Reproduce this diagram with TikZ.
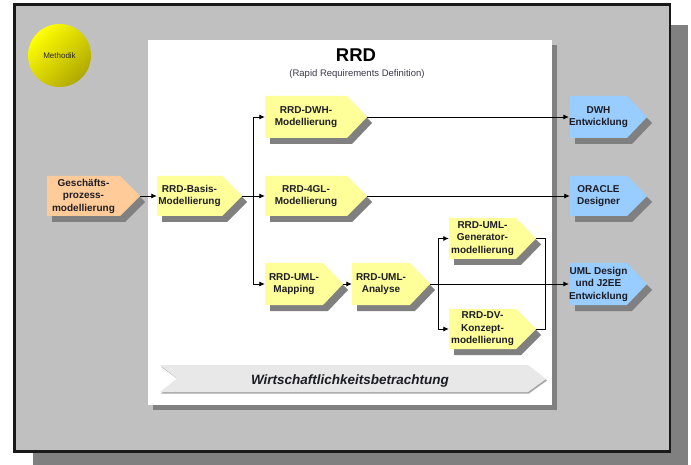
\documentclass[tikz,border=0pt]{standalone}
\usepackage{fontspec}
\setmainfont{Liberation Sans}
\usetikzlibrary{arrows.meta,calc}
\definecolor{outergray}{HTML}{C0C0C0}
\definecolor{shadowgray}{HTML}{808080}
\definecolor{boxyellow}{HTML}{FFFF99}
\definecolor{boxorange}{HTML}{FFCC99}
\definecolor{boxblue}{HTML}{99CCFF}
\definecolor{bannergray}{HTML}{E8E8E8}
\definecolor{txtdark}{HTML}{1C1C24}
\definecolor{subgray}{HTML}{3A3A4A}
\definecolor{ballhi}{HTML}{FFFF00}
\definecolor{balllo}{HTML}{B0A800}

\tikzset{
  boxtext/.style={inner sep=0pt, align=center, text=txtdark,
    font=\bfseries\fontsize{10}{12.5}\selectfont},
  boxshadow/.style={fill=shadowgray},
  conn/.style={draw=black, line width=0.8pt},
  arr/.style={conn, -{Latex[length=5.5pt,width=5pt]}},
}

% #1 name, #2 fill, #3 x-left, #4 x-tip, #5 y-top, #6 y-bottom, #7 text
\newcommand\procbox[7]{%
  \fill[boxshadow] (#3+5,#5+6) -- (#4-20+5,#5+6) -- (#4+5,{(#5+#6)/2+6})
     -- (#4-20+5,#6+6) -- (#3+5,#6+6) -- cycle;
  \fill[#2] (#3,#5) -- (#4-20,#5) -- (#4,{(#5+#6)/2}) -- (#4-20,#6) -- (#3,#6) -- cycle;
  \node[boxtext, minimum width={#4-20-#3}, minimum height={#6-#5}]
     (#1) at ({(#3+#4-20)/2},{(#5+#6)/2}) {#7};
  \coordinate (#1-tip) at (#4,{(#5+#6)/2});
}

\begin{document}
\begin{tikzpicture}[x=1pt,y=-1pt]
\useasboundingbox (0,0) rectangle (691,465);

% outer frame with shadow
\fill[shadowgray] (33,25) rectangle (688,465);
\draw[fill=outergray, line width=2.5pt, draw=black!90] (14.5,4.5) rectangle (670,451.5);

% methodik ball
\node[circle, minimum size=63pt, inner sep=0pt, shading=axis,
  top color=ballhi, bottom color=balllo, shading angle=45,
  font=\fontsize{8}{9}\selectfont, text=black!85] (meth) at (59.5,55.5) {Methodik};

% white panel with shadow
\fill[shadowgray] (153,45) rectangle (557,410);
\fill[white] (148,40) rectangle (552,405);

% titles
\node[anchor=base, font=\bfseries\fontsize{18.5}{20}\selectfont] (title) at (356,62) {RRD};
\node[anchor=base, font=\fontsize{9.5}{11}\selectfont, text=subgray] (subtitle) at (357,77) {(Rapid Requirements Definition)};

% boxes
\procbox{gp}{boxorange}{47}{140}{176}{216}{Gesch\"afts-\\prozess-\\modellierung}
\procbox{basis}{boxyellow}{157}{242}{176}{216}{RRD-Basis-\\Modellierung}
\procbox{dwh}{boxyellow}{265}{367}{96}{138}{RRD-DWH-\\Modellierung}
\procbox{gl}{boxyellow}{265}{367}{176}{216}{RRD-4GL-\\Modellierung}
\procbox{map}{boxyellow}{265}{343}{263}{305}{RRD-UML-\\Mapping}
\procbox{ana}{boxyellow}{352}{430}{263}{305}{RRD-UML-\\Analyse}
\procbox{gen}{boxyellow}{449}{536}{218}{259}{RRD-UML-\\Generator-\\modellierung}
\procbox{dv}{boxyellow}{449}{536}{309}{349}{RRD-DV-\\Konzept-\\modellierung}
\procbox{dwhe}{boxblue}{570}{647}{96}{138}{DWH\\Entwicklung}
\procbox{ora}{boxblue}{570}{647}{176}{216}{ORACLE\\Designer}
\procbox{uml}{boxblue}{570}{647}{263}{305}{UML Design\\und J2EE\\Entwicklung}

% banner
\fill[black!35] (161,366.5) -- (529,366.5) -- (547,380.5) -- (529,393.5) -- (161,393.5) -- (178,379.5) -- cycle;
\fill[bannergray] (160,365) -- (528,365) -- (546,379) -- (528,392) -- (160,392) -- (177,378.5) -- cycle;
\node[anchor=base, font=\bfseries\itshape\fontsize{13.5}{15}\selectfont, text=txtdark] (wb) at (350,384) {Wirtschaftlichkeitsbetrachtung};

% connectors
\coordinate (j1) at (253,196);
\coordinate (j2) at (438,284);
\coordinate (brk) at (545,238.5);
\draw[arr] (gp-tip) -- (basis.west);
\draw[arr] (basis-tip) -- (gl.west);
\draw[arr] (j1) |- (dwh.west);
\draw[arr] (j1) |- (map.west);
\draw[arr] (map-tip) -- (ana.west);
\draw[arr] (ana-tip) -- (uml.west);
\draw[arr] (j2) |- (gen.west);
\draw[arr] (j2) |- (dv.west);
\draw[conn] (gen-tip) -- (brk) |- (dv-tip);
\draw[arr] (dwh-tip) -- (dwhe.west);
\draw[arr] (gl-tip) -- (ora.west);
\end{tikzpicture}
\end{document}
